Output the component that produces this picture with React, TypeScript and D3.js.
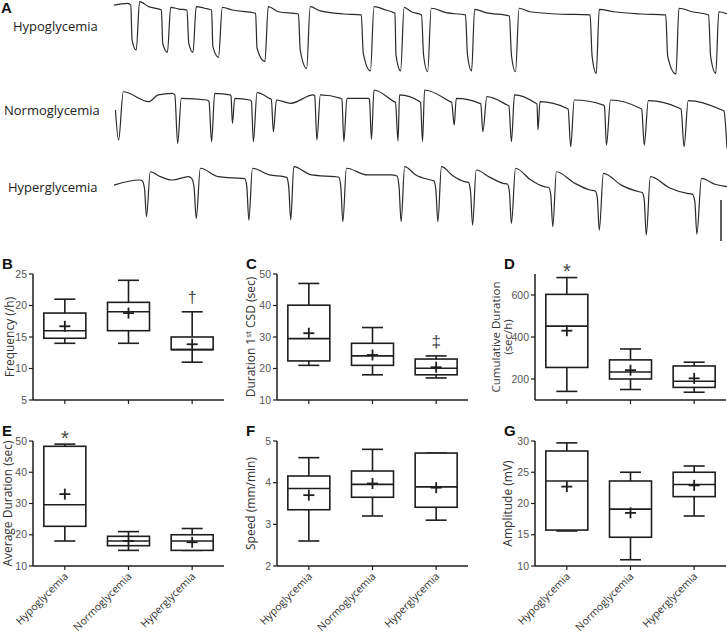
import React from 'react';
import * as d3 from 'd3';

// ---------- Panel A: recorded traces (time in min, DC potential in mV) ----------
const hypoTrace: [number, number][] = [
  [0, 1.1], [1.36, 1.75], [1.64, 1.1], [1.77, -12], [2.18, -15.75], [2.5, 2.4], [3.4, 0.5],
  [4.64, -0.75], [4.77, -13.25], [5.23, -16.6], [5.55, 0.25], [6.36, -0.4],
  [7.14, -0.75], [7.32, -13.25], [7.73, -16.6], [8.05, 0.5], [8.86, -0.1],
  [9.55, -0.75], [9.68, -14.5], [10.23, -18.5], [10.6, 0.25], [11.6, -0.75],
  [13.86, -2], [14.0, -15.1], [14.77, -20.1], [15.1, 0.5], [16.1, -1.4],
  [18.05, -2.25], [18.23, -15.75], [18.86, -22.6], [19.2, 0.5], [20.2, -1.1], [22.5, -2.25],
  [24.2, -2.6], [24.4, -17], [25.1, -23.6], [25.45, 0.5], [26.6, -0.75],
  [27.5, -2], [27.6, -17.6], [28.05, -23.6], [28.4, 0.25], [29.1, -1.4],
  [30.1, -2.6], [30.3, -17.6], [30.7, -23.9], [31.05, -0.1], [32.5, -1.75],
  [34.4, -2.6], [34.6, -17.6], [35.0, -23.6], [35.3, -0.5], [36.4, -1.75],
  [38.7, -3], [38.9, -17.6], [39.3, -23.9], [39.65, -0.1], [40.7, -1.4], [43.4, -2.25],
  [46.6, -2.6], [46.8, -18.25], [47.2, -24.5], [47.5, -0.5], [48.9, -1.4], [51.6, -2.25],
  [54.0, -2.6], [54.2, -18.25], [55.0, -24.75], [55.3, -0.1], [56.6, -1.4],
  [58.2, -2.6], [58.4, -18.25], [58.9, -24.5], [59.2, -1.4], [60, -2.25],
];

const normoTrace: [number, number][] = [
  [0.14, -8.25], [0.45, -19.5], [0.91, -1.4], [3.41, -5.1], [4.32, -2.6], [5.68, -2],
  [5.95, -2.6], [6.23, -20.75], [6.59, -3.9], [9.09, -4.5], [9.3, -5.1], [9.55, -20.1],
  [9.86, -2], [11.36, -2.6], [11.45, -3], [11.59, -13.25], [11.82, -3.9], [13.3, -4.5],
  [13.45, -5], [13.64, -20.1], [14.0, -1.75], [15.23, -3.9], [15.4, -4.25], [15.6, -16.4],
  [15.9, -4.5], [17.3, -5.75], [19.5, -2.6], [19.64, -2.9], [19.86, -19.5], [20.2, -2.6],
  [22.2, -3.9], [22.3, -4.1], [22.5, -20.1], [22.8, -3.9], [24.9, -3.9], [25.0, -4.3],
  [25.2, -19.25], [25.45, -0.75], [27.4, -5.1], [27.55, -5.4], [27.8, -19.9], [27.95, -2.6],
  [29.9, -5.1], [30.0, -5.4], [30.2, -20.1], [30.4, -0.75], [32.9, -5.1], [33.05, -5.4],
  [33.3, -13.9], [33.5, -3.9], [35.8, -5.75], [35.9, -6], [36.1, -16.4], [36.5, -3.25],
  [38.5, -6.4], [38.65, -6.7], [38.9, -20.1], [39.2, -2.6], [41.3, -5.75], [41.4, -6],
  [41.5, -15.75], [41.7, -5.1], [44.3, -7.6], [44.45, -7.9], [44.7, -22], [45.05, -4.5],
  [47.9, -6.4], [48.0, -6.7], [48.2, -21.4], [48.6, -4.5], [51.5, -7.6], [51.65, -7.9],
  [51.9, -21.4], [52.3, -4.75], [55.35, -7.6], [55.5, -7.9], [55.8, -22], [56.2, -4.75],
  [59.5, -8.25], [59.7, -8.6], [60, -22.6],
];

const hyperTrace: [number, number][] = [
  [0, -6.4], [2.5, -4.5],
  [2.75, -4.75], [2.98, -7.5], [3.18, -18.25], [3.55, -1.4], [4.55, -3.25], [5.68, -4.5], [7.3, -3.25],
  [7.6, -3.9], [7.83, -7], [8.05, -18.9], [8.45, -0.1], [10.2, -3.25], [12.5, -3.9],
  [12.8, -4], [13.0, -7], [13.2, -19.5], [13.55, -0.1], [15.2, -2.6], [16.6, -3.25],
  [16.9, -3.5], [17.1, -7], [17.3, -19.5], [17.6, 0.5], [19.3, -2.6], [21.6, -3.25],
  [22.0, -3.4], [22.2, -7], [22.4, -20.1], [22.75, -0.1], [24.8, -2.6], [27.1, -2.6],
  [27.7, -3], [27.9, -7], [28.1, -20.1], [28.45, 0.5], [29.5, -2.5], [31.0, -4.5],
  [31.3, -4.8], [31.5, -8], [31.7, -20.1], [32.05, 0.5], [33.2, -3], [34.3, -5.1],
  [34.7, -5.4], [34.9, -9], [35.1, -21.4], [35.45, -0.75], [36.8, -3.5], [38.1, -5.75],
  [38.5, -6], [38.7, -9], [38.9, -20.75], [39.3, -0.1], [40.8, -4.5], [42.1, -7],
  [42.55, -7.3], [42.75, -10], [42.95, -22], [43.3, -1.4], [45.0, -5.5], [46.6, -8.25],
  [47.1, -8.6], [47.3, -11], [47.5, -23.25], [47.9, -2], [49.7, -6.5], [51.4, -8.9],
  [51.7, -9.2], [51.9, -12], [52.1, -25.1], [52.5, -3.25], [54.4, -7.5], [56.1, -9.5],
  [56.6, -9.8], [56.85, -12.5], [57.05, -24.75], [57.5, -3.9], [58.9, -6.2], [60, -7],
];

const traceNames = ['Hypoglycemia', 'Normoglycemia', 'Hyperglycemia'];

// ---------- Box plots: [min, q1, median, q3, max] ----------
const groups = ['Hypoglycemia', 'Normoglycemia', 'Hyperglycemia'];

const freqStats = [[14, 14.8, 16, 18.8, 21], [14, 16, 19, 20.5, 24], [11, 13, 13, 15, 19]];
const freqMeans = [16.7, 18.8, 13.85];
const freqTicks = [5, 10, 15, 20, 25];

const firstDurStats = [[21, 22.4, 29.5, 40.1, 47], [18, 21, 24, 28, 33], [17, 18, 20.1, 23, 24]];
const firstDurMeans = [31.2, 24.3, 20.4];
const firstDurTicks = [10, 20, 30, 40, 50];

const cumDurStats = [[141, 255, 452, 603, 683], [150, 200, 233, 291, 343], [137, 160, 189, 262, 280]];
const cumDurMeans = [430, 242, 203];
const cumDurTicks = [200, 400, 600];

const avgDurStats = [[18, 22.7, 29.6, 48.3, 49], [15, 16.5, 18, 19.5, 21], [15, 15, 18, 20, 22]];
const avgDurMeans = [33, 18, 17.6];
const avgDurTicks = [10, 20, 30, 40, 50];

const speedStats = [[2.6, 3.35, 3.86, 4.16, 4.6], [3.2, 3.65, 3.96, 4.28, 4.8], [3.1, 3.41, 3.9, 4.71, 4.71]];
const speedMeans = [3.7, 3.98, 3.88];
const speedTicks = [2, 3, 4, 5];

const ampStats = [[15.6, 15.75, 23.6, 28.4, 29.7], [11, 14.6, 19.1, 23.6, 25], [18, 21.1, 23.05, 25, 26]];
const ampMeans = [22.7, 18.5, 22.9];
const ampTicks = [10, 15, 20, 25, 30];

const FONT = '"Open Sans", "DejaVu Sans", sans-serif';
const NUMFONT = '"Liberation Sans", Arial, sans-serif';
const INK = '#1e1e1e';

type Panel = {
  letter: string;
  x0: number;
  top: number;
  bottom: number;
  domain: [number, number];
  ticks: number[];
  stats: number[][];
  means: number[];
  title: React.ReactNode[];
  titleX: number[];
  titleSize: number;
  showCats: boolean;
  mark?: { group: number; symbol: string; dy: number; size: number };
};

function BoxPanel({ p }: { p: Panel }) {
  const W = 191;
  const x = d3.scalePoint<string>().domain(groups).range([p.x0, p.x0 + W]).padding(0.5);
  const y = d3.scaleLinear().domain(p.domain).range([p.bottom, p.top]);
  const bw = 42;
  const cap = 10.5;
  const mid = (p.top + p.bottom) / 2;
  return (
    <g>
      <text x={p.x0 - 31} y={p.top - 5} fontFamily={NUMFONT} fontWeight="bold" fontSize={15} fill="#111">
        {p.letter}
      </text>
      {p.title.map((t, i) => (
        <text key={i} transform={`translate(${p.titleX[i]},${mid}) rotate(-90)`} textAnchor="middle"
          fontFamily={FONT} fontSize={p.titleSize} fill="#333">{t}</text>
      ))}
      <line x1={p.x0} x2={p.x0} y1={p.top} y2={p.bottom} stroke={INK} strokeWidth={1.5} />
      <line x1={p.x0} x2={p.x0 + W} y1={p.bottom} y2={p.bottom} stroke={INK} strokeWidth={1.5} />
      {p.ticks.map((t) => (
        <g key={t}>
          <line x1={p.x0 - 4} x2={p.x0} y1={y(t)} y2={y(t)} stroke={INK} strokeWidth={1.2} />
          <text x={p.x0 - 6} y={y(t) + 3.6} textAnchor="end" fontFamily={NUMFONT} fontSize={10.5} fill="#555">{t}</text>
        </g>
      ))}
      {groups.map((g) => (
        <line key={g} x1={x(g)} x2={x(g)} y1={p.bottom} y2={p.bottom + 4} stroke={INK} strokeWidth={1.2} />
      ))}
      {p.showCats && groups.map((g) => (
        <text key={g} transform={`translate(${(x(g) as number) + 4},${p.bottom + 11}) rotate(-45)`} textAnchor="end"
          fontFamily={FONT} fontSize={10.5} fill="#333">{g}</text>
      ))}
      {groups.map((g, i) => {
        const cx = x(g) as number;
        const [mn, q1, md, q3, mx] = p.stats[i];
        const m = p.means[i];
        return (
          <g key={g} stroke={INK} strokeWidth={1.6} fill="none">
            <line x1={cx} x2={cx} y1={y(q3)} y2={y(mx)} />
            <line x1={cx - cap} x2={cx + cap} y1={y(mx)} y2={y(mx)} />
            <line x1={cx} x2={cx} y1={y(q1)} y2={y(mn)} />
            <line x1={cx - cap} x2={cx + cap} y1={y(mn)} y2={y(mn)} />
            <rect x={cx - bw / 2} y={y(q3)} width={bw} height={y(q1) - y(q3)} fill="#fff" />
            <line x1={cx - bw / 2} x2={cx + bw / 2} y1={y(md)} y2={y(md)} />
            <line x1={cx - 5.5} x2={cx + 5.5} y1={y(m)} y2={y(m)} strokeWidth={1.8} />
            <line x1={cx} x2={cx} y1={y(m) - 5.5} y2={y(m) + 5.5} strokeWidth={1.8} />
          </g>
        );
      })}
      {p.mark && (
        <text x={x(groups[p.mark.group])} y={y(p.stats[p.mark.group][4]) + p.mark.dy} textAnchor="middle"
          fontFamily={NUMFONT} fontSize={p.mark.size} fill="#444">{p.mark.symbol}</text>
      )}
    </g>
  );
}

export default function App() {
  const tx = d3.scaleLinear().domain([0, 60]).range([114, 727]);
  const rowOffsets = [0, 80, 160];
  const traces = [hypoTrace, normoTrace, hyperTrace];
  const labelY = [31, 115, 192];
  const labelX = [13, 4, 8];

  const row1Top = 274, row1Bottom = 400, row2Top = 441, row2Bottom = 566;
  const panels: Panel[] = [
    { letter: 'B', x0: 33, top: row1Top, bottom: row1Bottom, domain: [5, 25], ticks: freqTicks, stats: freqStats, means: freqMeans,
      title: ['Frequency (/h)'], titleX: [14], titleSize: 12, showCats: false, mark: { group: 2, symbol: '†', dy: -9, size: 16 } },
    { letter: 'C', x0: 277, top: row1Top, bottom: row1Bottom, domain: [10, 50], ticks: firstDurTicks, stats: firstDurStats, means: firstDurMeans,
      title: [<>Duration 1<tspan dy={-4} fontSize={8}>st</tspan><tspan dy={4}> CSD (sec)</tspan></>], titleX: [255], titleSize: 12, showCats: false,
      mark: { group: 2, symbol: '‡', dy: -9, size: 17 } },
    { letter: 'D', x0: 535, top: row1Top, bottom: row1Bottom, domain: [100, 700], ticks: cumDurTicks, stats: cumDurStats, means: cumDurMeans,
      title: ['Cumulative Duration', '(sec/h)'], titleX: [500, 512], titleSize: 11.5, showCats: false, mark: { group: 0, symbol: '*', dy: 0, size: 20 } },
    { letter: 'E', x0: 33, top: row2Top, bottom: row2Bottom, domain: [10, 50], ticks: avgDurTicks, stats: avgDurStats, means: avgDurMeans,
      title: ['Average Duration (sec)'], titleX: [12], titleSize: 12, showCats: true, mark: { group: 0, symbol: '*', dy: 1, size: 20 } },
    { letter: 'F', x0: 277, top: row2Top, bottom: row2Bottom, domain: [2, 5], ticks: speedTicks, stats: speedStats, means: speedMeans,
      title: ['Speed (mm/min)'], titleX: [255], titleSize: 12, showCats: true },
    { letter: 'G', x0: 535, top: row2Top, bottom: row2Bottom, domain: [10, 30], ticks: ampTicks, stats: ampStats, means: ampMeans,
      title: ['Amplitude (mV)'], titleX: [512], titleSize: 12, showCats: true },
  ];

  return (
    <svg width={727} height={636} style={{ position: 'absolute', left: 0, top: 0, background: '#fff' }}>
      <rect width={727} height={636} fill="#fff" />
      <text x={1} y={13} fontFamily={NUMFONT} fontWeight="bold" fontSize={15} fill="#111">A</text>
      {traces.map((tr, i) => {
        const ty = d3.scaleLinear().domain([-25, 0]).range([rowOffsets[i] + 74.7, rowOffsets[i] + 8]);
        const line = d3.line<[number, number]>().x((d) => tx(d[0])).y((d) => ty(d[1])).curve(d3.curveMonotoneX);
        return (
          <g key={i}>
            <text x={labelX[i]} y={labelY[i]} fontFamily={FONT} fontSize={13} fill="#222">{traceNames[i]}</text>
            <path d={line(tr) || ''} fill="none" stroke="#2a2a2a" strokeWidth={1.2} strokeLinejoin="round" />
          </g>
        );
      })}
      <line x1={721} x2={721} y1={200} y2={241} stroke="#333" strokeWidth={1.6} />
      {panels.map((p) => <BoxPanel key={p.letter} p={p} />)}
    </svg>
  );
}
